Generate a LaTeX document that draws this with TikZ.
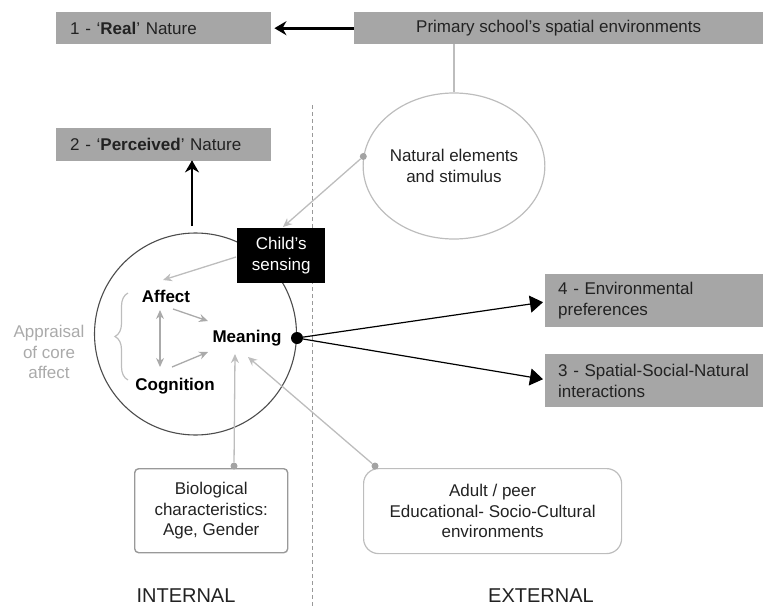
\documentclass[tikz,border=0pt]{standalone}
\usepackage{fontspec}
\setmainfont{Liberation Sans}
\usetikzlibrary{arrows.meta,decorations.pathreplacing,calc,shapes.geometric}
\definecolor{boxgray}{HTML}{A6A6A6}
\definecolor{lgray}{HTML}{BDBDBD}
\definecolor{dgray}{HTML}{999999}
\definecolor{txt}{HTML}{222222}
\begin{document}
\begin{tikzpicture}[x=1pt,y=-1pt,
  font=\fontsize{17}{20.5}\selectfont,
  graybox/.style={fill=boxgray,draw=none,text=txt,inner sep=0pt,anchor=north west},
  glink/.style={draw=lgray,line width=1.3pt},
  garrow/.style={draw=lgray,line width=1.3pt,-{Stealth[length=9pt,width=8pt]}},
  gdot/.style={circle,fill=dgray!90,inner sep=0pt,minimum size=7pt},
  barrow/.style={draw=black,line width=1.2pt,-{Triangle[length=13pt,width=17pt]}},
  thickarrow/.style={draw=black,line width=2.6pt,-{Stealth[length=12pt,width=14pt]}},
  inner/.style={font=\fontsize{17}{20.5}\selectfont\bfseries,text=black,inner sep=1pt}
]
\useasboundingbox (0,0) rectangle (763,608);

% dashed divider
\coordinate (dtop) at (312,105);
\coordinate (dbot) at (312,606);
\draw[dgray,dashed,dash pattern=on 4pt off 3pt,line width=0.8pt] (dtop) -- (dbot);

% top boxes
\node[graybox,minimum width=215pt,minimum height=32pt,text width=187pt,inner xsep=14pt,align=left] (real) at (56,12) {1 - `\textbf{Real}' Nature};
\node[graybox,minimum width=409pt,minimum height=32pt,align=center] (primary) at (354,12) {Primary school's spatial environments};
\node[graybox,minimum width=215pt,minimum height=33pt,text width=187pt,inner xsep=14pt,align=left] (perceived) at (56,128) {2 - `\textbf{Perceived}' Nature};

\draw[thickarrow] (primary.west) -- ($(real.east)+(3,0)$);

% natural elements ellipse
\node[ellipse,draw=lgray,line width=1.2pt,minimum width=178pt,minimum height=146pt,align=center,text=txt,inner sep=0pt] (nat) at (454,166) {Natural elements\\and stimulus};
\draw[glink] (primary.south -| nat.north) -- (nat.north);

% big circle
\node[circle,draw=black!70,line width=1.1pt,minimum size=202pt,inner sep=0pt] (self) at (195.5,334) {};

% circle -> perceived
\coordinate (selftop) at (192,226);
\draw[thickarrow] (selftop) -- (selftop |- perceived.south) -- +(0,-1);

% child's sensing
\node[fill=black,text=white,minimum width=88pt,minimum height=55pt,inner sep=0pt,align=center,anchor=north west] (child) at (237,228) {Child's\\sensing};

% inner words
\node[inner] (affect) at (166,296) {Affect};
\node[inner] (cognition) at (175,386) {Cognition};
\node[inner] (meaning) at (247,338) {Meaning};

% appraisal label
\node[text=lgray!90!black,align=center,inner sep=0pt] (appraisal) at (49,352) {Appraisal\\of core\\affect};
\coordinate (bracebot) at (128,380);
\coordinate (bracetop) at (128,293);
\draw[lgray,line width=1.2pt,decorate,decoration={brace,amplitude=13pt}] (bracebot) -- (bracetop);

% natural -> child
\node[gdot] (natdot) at (nat.174) {};
\coordinate (childtop) at (283,227);
\draw[garrow] (natdot) -- (childtop);

% child -> affect
\coordinate (childw) at (236,257);
\coordinate (affecttip) at (163,280);
\draw[garrow] (childw) -- (affecttip);

% affect <-> cognition
\coordinate (ac1) at (160,310);
\coordinate (ac2) at (160,367);
\draw[draw=lgray!90!black,line width=1.3pt,{Stealth[length=9pt,width=8pt]}-{Stealth[length=9pt,width=8pt]}] (ac1) -- (ac2);

% affect/cognition -> meaning
\coordinate (am1) at (173,309);
\coordinate (am2) at (208,321);
\coordinate (cm1) at (172,367);
\coordinate (cm2) at (208,352);
\draw[garrow,draw=lgray!90!black] (am1) -- (am2);
\draw[garrow,draw=lgray!90!black] (cm1) -- (cm2);

% output boxes
\node[graybox,minimum width=218pt,minimum height=53pt,text width=192pt,inner xsep=13pt,align=left] (pref) at (545,274) {4 - Environmental\\preferences};
\node[graybox,minimum width=218pt,minimum height=53pt,text width=192pt,inner xsep=13pt,align=left] (inter) at (545,354) {3 - Spatial-Social-Natural\\interactions};

\node[circle,fill=black,inner sep=0pt,minimum size=12pt] (mdot) at (297,338) {};
\draw[barrow] (mdot) -- ($(pref.west)+(-2,1.5)$);
\draw[barrow] (mdot) -- ($(inter.west)+(-2,-1.5)$);

% bottom boxes
\node[draw=dgray,line width=1.4pt,rounded corners=4pt,minimum width=153pt,minimum height=84pt,align=center,text=txt,inner sep=0pt,anchor=north west] (bio) at (134,468) {Biological\\characteristics:\\Age, Gender};
\node[draw=lgray,line width=1.2pt,rounded corners=15pt,minimum width=258pt,minimum height=85pt,align=center,text=txt,inner sep=0pt,anchor=north west] (adult) at (363,468) {Adult / peer\\Educational- Socio-Cultural\\environments};

\node[gdot] (biodot) at (234,466) {};
\node[gdot] (adultdot) at (375,466) {};
\coordinate (biotip) at (235,354);
\coordinate (adulttip) at (248,357);
\draw[garrow] (biodot) -- (biotip);
\draw[garrow] (adultdot) -- (adulttip);

% labels
\node[font=\fontsize{20}{24}\selectfont,text=txt] (internal) at (186,596) {INTERNAL};
\node[font=\fontsize{20}{24}\selectfont,text=txt] (external) at (541,596) {EXTERNAL};
\end{tikzpicture}
\end{document}
